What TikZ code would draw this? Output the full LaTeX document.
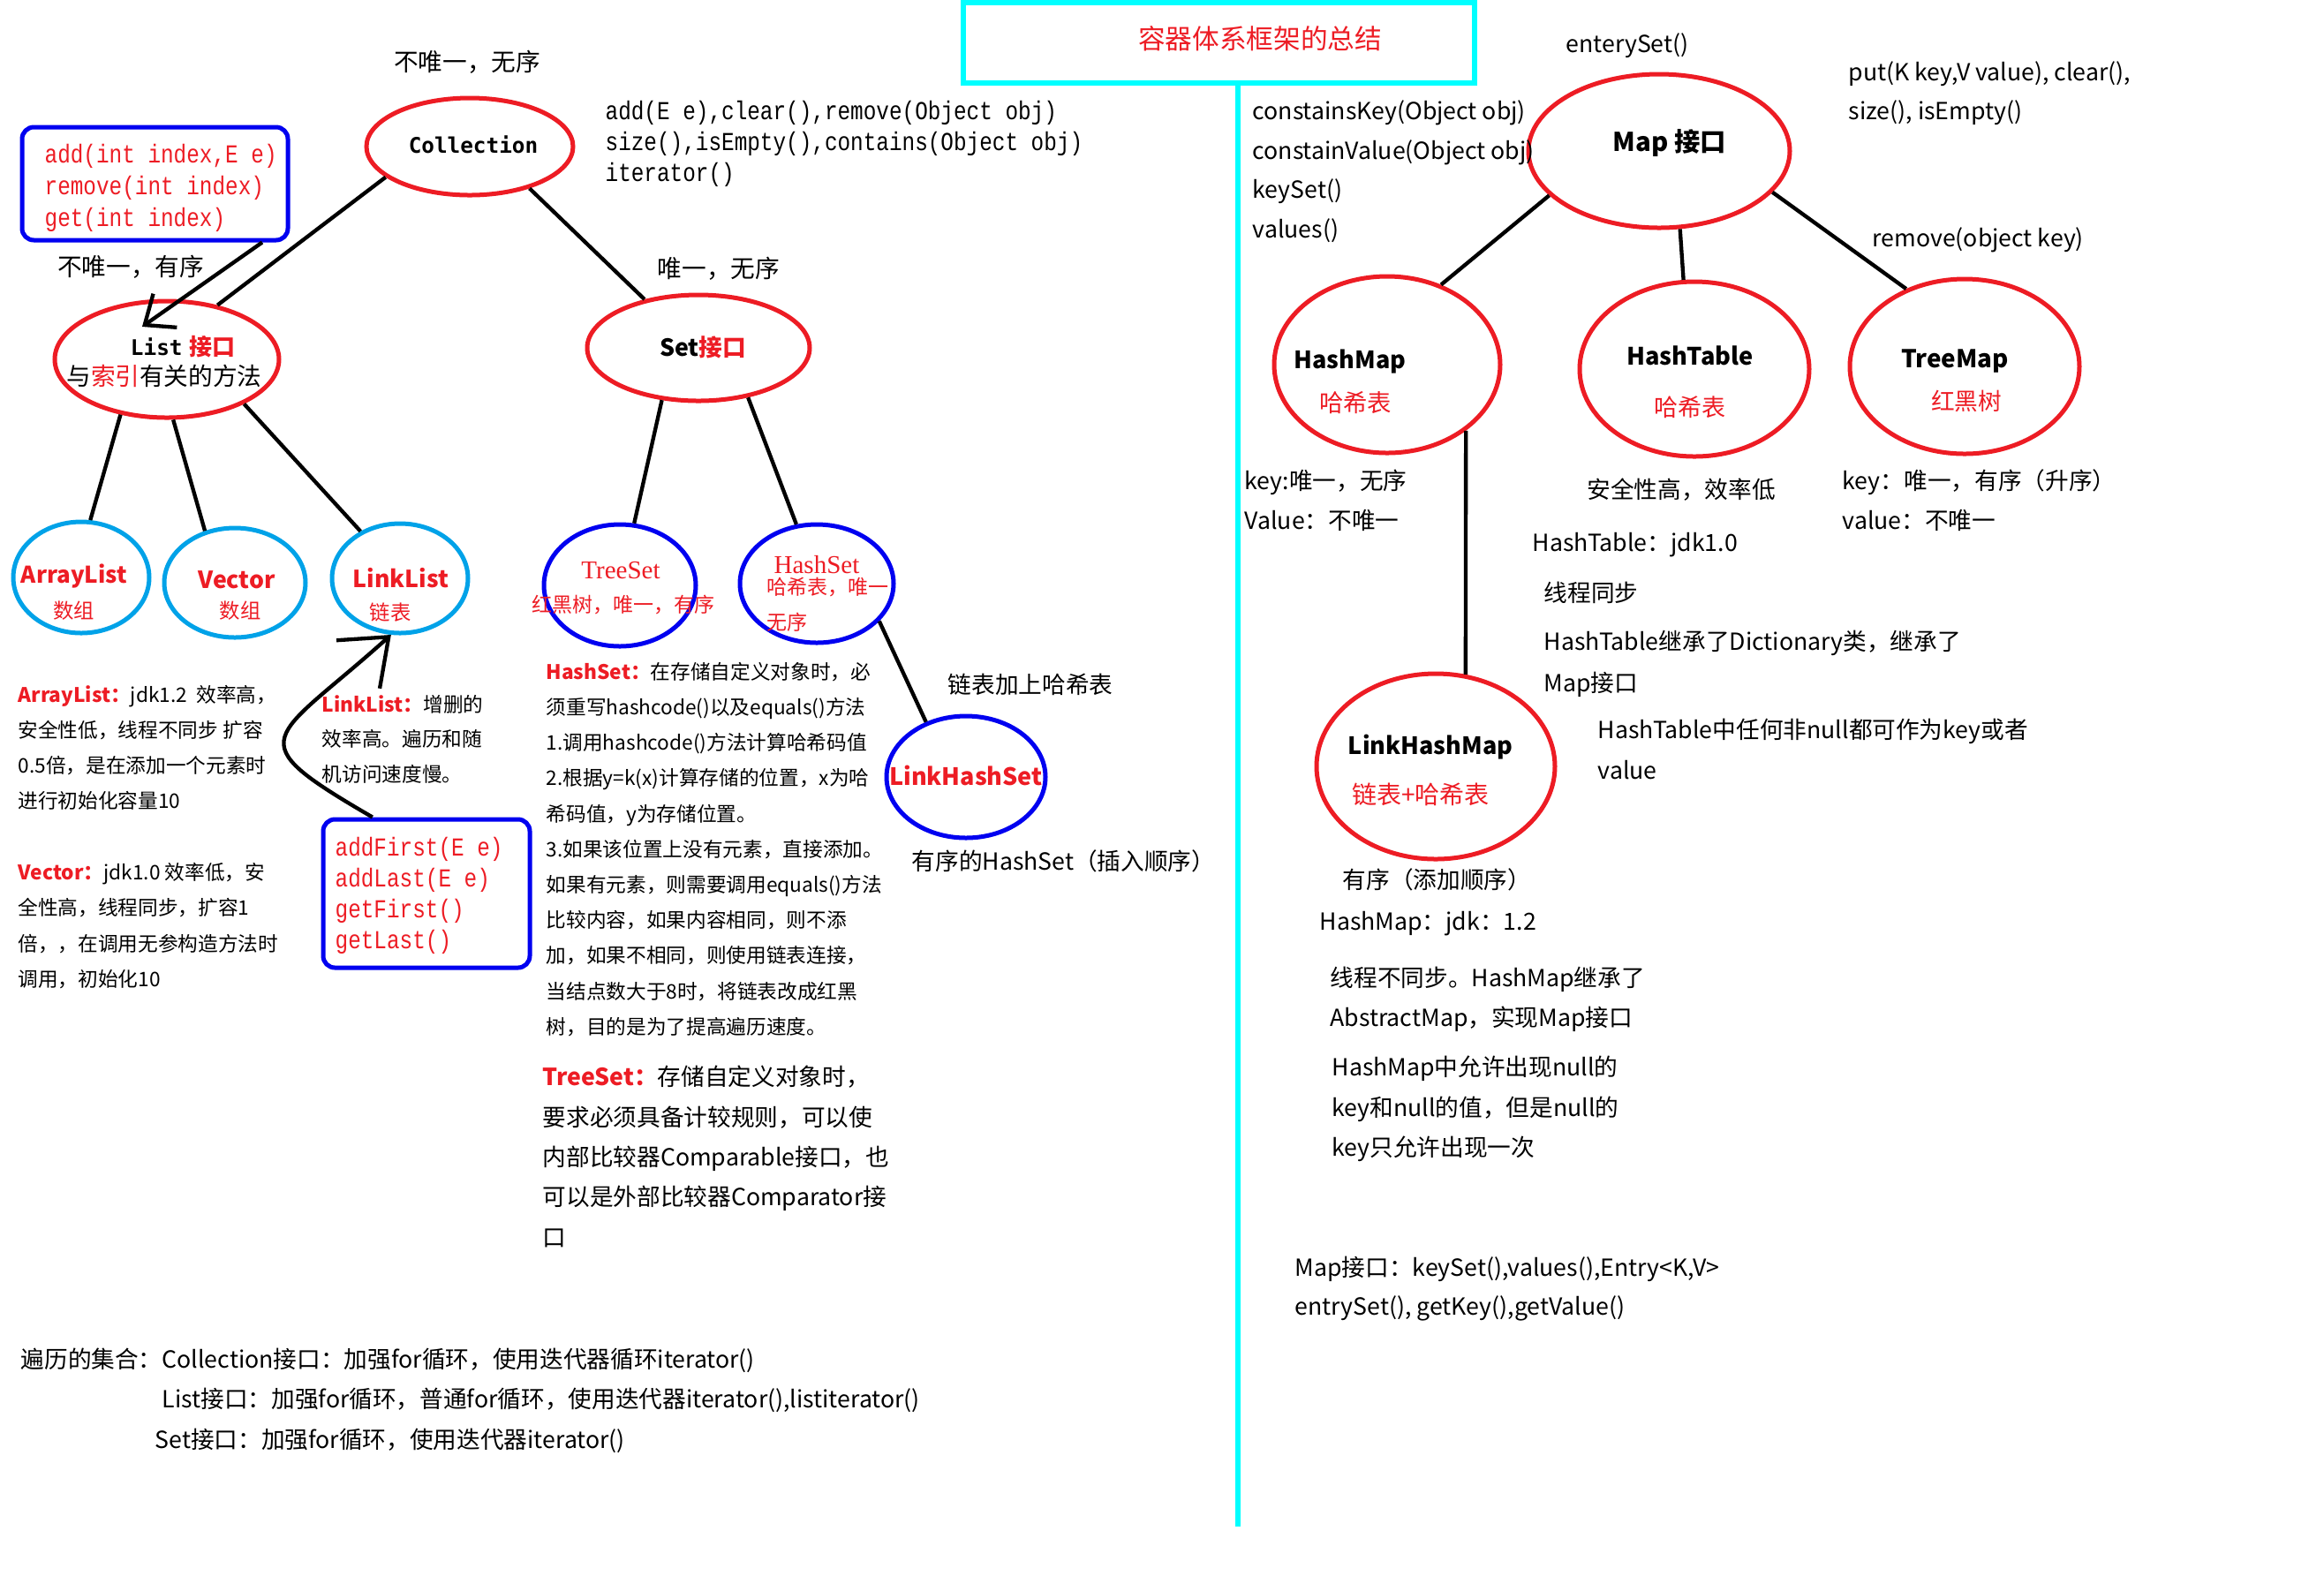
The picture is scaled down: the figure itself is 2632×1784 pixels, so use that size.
\documentclass[tikz,border=0pt]{standalone}
\usepackage{fontspec}
\setmainfont{Noto Sans CJK SC}
\newfontfamily\monoS[FakeStretch=0.83]{Liberation Mono}
\newfontfamily\serifT{Liberation Serif}
\newfontfamily\monoB{DejaVu Sans Mono}
\usetikzlibrary{shapes.geometric,arrows.meta,calc}
\definecolor{pred}{HTML}{ED1C24}
\definecolor{pblue}{HTML}{0000F0}
\definecolor{pcyan}{HTML}{00A2E8}
\definecolor{tcyan}{HTML}{00FFFF}
\newcommand{\fs}[2]{\fontsize{#1pt}{#2pt}\selectfont}
\newcommand{\topr}[1]{\rule{0pt}{#1pt}}
\begin{document}
\begin{tikzpicture}[x=0.3pt,y=-0.3pt,
  ell/.style={ellipse,draw,line width=1.5pt,inner sep=0pt},
  redell/.style={ell,draw=pred},
  cyanell/.style={ell,draw=pcyan},
  blueell/.style={ell,draw=pblue},
  conn/.style={draw=black,line width=1.3pt},
  lbl/.style={inner sep=0pt},
  wl/.style={inner sep=0pt,anchor=west},
  blk/.style={inner sep=0pt,anchor=north west,align=left},
  mbox/.style={draw=pblue,line width=1.5pt,rounded corners=4pt,inner sep=0pt},
]
\fill[white] (0,0) rectangle (2632,1784);
\useasboundingbox (0,0) rectangle (2632,1784);

% ---------- title ----------
\node[draw=tcyan,line width=2pt,minimum width=173.7pt,minimum height=27.3pt,inner sep=0pt] (titlebox) at (1380.5,48.5) {};
\node[lbl,text=pred,font=\fs{9.2}{11}] (titletext) at (1427,44) {容器体系框架的总结};
\coordinate (divTop) at (1402,94);
\coordinate (divBot) at (1402,1729);
\draw[tcyan,line width=2pt] (divTop) -- (divBot);

% ---------- Collection side ----------
\node[redell,minimum width=70.2pt,minimum height=33pt] (coll) at (532,166) {};
\node[lbl,font=\monoB\bfseries\fs{7.3}{9}] (tcoll) at (536,164) {Collection};
\node[lbl,font=\fs{8.3}{10}] (lcoll) at (529,70) {不唯一，无序};
\node[blk,font=\monoS\fs{8.8}{10.5}] (collm) at (685,105.5) {\topr{8.8}add(E e),clear(),remove(Object obj)\\size(),isEmpty(),contains(Object obj)\\iterator()};

\node[redell,minimum width=76.2pt,minimum height=39.6pt] (list) at (189,407) {};
\node[lbl] (tlist1) at (207,393) {{\monoB\bfseries\fs{7.3}{9}List} {\color{pred}\bfseries\fs{7.8}{9}接口}};
\node[lbl,font=\fs{8.3}{10}] (tlist2) at (186,426) {与{\color{pred}索引}有关的方法};
\node[lbl,font=\fs{8.3}{10}] (llist) at (148,302) {不唯一，有序};

\node[mbox,minimum width=90.3pt,minimum height=38.4pt] (boxL) at (175.5,208) {};
\node[blk,text=pred,font=\monoS\fs{8.8}{10.8}] (boxLt) at (50,154.5) {\topr{8.8}add(int index,E e)\\remove(int index)\\get(int index)};

\node[redell,minimum width=75.6pt,minimum height=36pt] (set) at (791,394) {};
\node[lbl,font=\bfseries\fs{8}{10}] (tset0) at (796,393) {Set{\color{pred}接口}};
\node[lbl,font=\fs{8.3}{10}] (lset) at (814,304) {唯一，无序};

% list children
\node[cyanell,minimum width=46.2pt,minimum height=37.8pt] (arr) at (92,654) {};
\node[lbl,text=pred,font=\bfseries\fs{7.8}{10}] (tarr1) at (84,653) {ArrayList};
\node[lbl,text=pred,font=\fs{7}{9}] (tarr2) at (84,692) {数组};
\node[cyanell,minimum width=48pt,minimum height=37.2pt] (vec) at (266,660) {};
\node[lbl,text=pred,font=\bfseries\fs{8}{10}] (tvec1) at (268,657) {Vector};
\node[lbl,text=pred,font=\fs{7}{9}] (tvec2) at (272,692) {数组};
\node[cyanell,minimum width=46.2pt,minimum height=37.2pt] (lnk) at (453,655) {};
\node[lbl,text=pred,font=\bfseries\fs{8}{10}] (tlnk1) at (454,655) {LinkList};
\node[lbl,text=pred,font=\fs{7}{9}] (tlnk2) at (442,694) {链表};

% set children
\node[blueell,minimum width=51.6pt,minimum height=41.4pt] (tset) at (702,663) {};
\node[lbl,text=pred,font=\serifT\fs{8.7}{10}] (ttset1) at (703,646) {TreeSet};
\node[lbl,text=pred,font=\fs{6.9}{8}] (ttset2) at (706,685) {红黑树，唯一，有序};
\node[blueell,minimum width=52.2pt,minimum height=40.2pt] (hset) at (925,661) {};
\node[lbl,text=pred,font=\serifT\fs{8.7}{10}] (thset1) at (925,640) {HashSet};
\node[lbl,text=pred,font=\fs{6.9}{8}] (thset2) at (937,665) {哈希表，唯一};
\node[lbl,text=pred,font=\fs{6.9}{8}] (thset3) at (891,705) {无序};
\node[blueell,minimum width=54pt,minimum height=41.4pt] (lhset) at (1094,880) {};
\node[lbl,text=pred,font=\bfseries\fs{8.1}{10}] (tlhset) at (1094,878) {LinkHashSet};
\node[lbl,font=\fs{8}{10}] (llhset) at (1167,775) {链表加上哈希表};
\node[wl,font=\fs{8}{10}] (llhset2) at (1032,975) {有序的HashSet（插入顺序）};

\node[mbox,minimum width=70.2pt,minimum height=50.4pt] (boxF) at (483,1012) {};
\node[blk,text=pred,font=\monoS\fs{8.8}{10.5}] (boxFt) at (379,939.5) {\topr{8.8}addFirst(E e)\\addLast(E e)\\getFirst()\\getLast()};

% text blocks left
\node[blk,font=\fs{6.8}{12}] (arrtxt) at (20,772) {\topr{6.8}{\color{pred}\bfseries ArrayList：}jdk1.2\ \ 效率高，\\安全性低，线程不同步 扩容\\0.5倍，是在添加一个元素时\\进行初始化容量10};
\node[blk,font=\fs{6.8}{12.1}] (vectxt) at (20,973) {\topr{6.8}{\color{pred}\bfseries Vector：}jdk1.0 效率低，安\\全性高，线程同步，扩容1\\倍，，在调用无参构造方法时\\调用，初始化10};
\node[blk,font=\fs{6.8}{11.85}] (lnktxt) at (364,783) {\topr{6.8}{\color{pred}\bfseries LinkList：}增删的\\效率高。遍历和随\\机访问速度慢。};
\node[blk,font=\fs{6.8}{12.06}] (hsettxt) at (618,746) {\topr{6.8}{\color{pred}\bfseries HashSet：}在存储自定义对象时，必\\须重写hashcode()以及equals()方法\\1.调用hashcode()方法计算哈希码值\\2.根据y=k(x)计算存储的位置，x为哈\\希码值，y为存储位置。\\3.如果该位置上没有元素，直接添加。\\如果有元素，则需要调用equals()方法\\比较内容，如果内容相同，则不添\\加，如果不相同，则使用链表连接，\\当结点数大于8时，将链表改成红黑\\树，目的是为了提高遍历速度。};
\node[blk,font=\fs{8}{13.6}] (tsettxt) at (614,1202.5) {\topr{8}{\color{pred}\bfseries TreeSet：}存储自定义对象时，\\要求必须具备计较规则，可以使\\内部比较器Comparable接口，也\\可以是外部比较器Comparator接\\口};

\node[wl,font=\fs{8}{10}] (iter1) at (23,1541) {遍历的集合：Collection接口：加强for循环，使用迭代器循环iterator()};
\node[wl,font=\fs{8}{10}] (iter2) at (183,1586) {List接口：加强for循环，普通for循环，使用迭代器iterator(),listiterator()};
\node[wl,font=\fs{8}{10}] (iter3) at (175,1632) {Set接口：加强for循环，使用迭代器iterator()};

% ---------- Map side ----------
\node[redell,minimum width=88.8pt,minimum height=52.2pt] (map) at (1879,171) {};
\node[lbl,font=\bfseries\fs{8.8}{10}] (tmap0) at (1891,162) {Map 接口};
\node[lbl,font=\fs{8}{10}] (lmap1) at (1843,52) {enterySet()};
\node[blk,font=\fs{8}{13.2}] (lmap2) at (2093,64) {\topr{8}put(K key,V value), clear(),\\size(), isEmpty()};
\node[blk,font=\fs{8}{13.4}] (lmap3) at (1418,108) {\topr{8}constainsKey(Object obj)\\constainValue(Object obj)\\keySet()\\values()};
\node[wl,font=\fs{8}{10}] (lmap4) at (2120,272) {remove(object key)};

\node[redell,minimum width=76.8pt,minimum height=60pt] (hmap) at (1571,413) {};
\node[lbl,font=\bfseries\fs{8.1}{10}] (thmap1) at (1529,409) {HashMap};
\node[lbl,text=pred,font=\fs{8.2}{10}] (thmap2) at (1535,456) {哈希表};
\node[redell,minimum width=78pt,minimum height=59.4pt] (htab) at (1919,418) {};
\node[lbl,font=\bfseries\fs{8.15}{10}] (thtab1) at (1914,403) {HashTable};
\node[lbl,text=pred,font=\fs{8.1}{10}] (thtab2) at (1914,461) {哈希表};
\node[redell,minimum width=78pt,minimum height=59.4pt] (tmap) at (2225,415) {};
\node[lbl,font=\bfseries\fs{8.35}{10}] (ttmap1) at (2214,409) {TreeMap};
\node[lbl,text=pred,font=\fs{8}{10}] (ttmap2) at (2227,454) {红黑树};
\node[redell,minimum width=81pt,minimum height=63pt] (lhmap) at (1626,868) {};
\node[lbl,font=\bfseries\fs{8.1}{10}] (tlhmap1) at (1620,846) {LinkHashMap};
\node[lbl,text=pred,font=\fs{8.4}{10}] (tlhmap2) at (1609,900) {链表+哈希表};

\node[blk,font=\fs{8}{13.5}] (khm) at (1409,527.5) {\topr{8}key:唯一，无序\\Value：不唯一};
\node[lbl,font=\fs{8}{10}] (kht) at (1904,555) {安全性高，效率低};
\node[blk,font=\fs{8}{13.5}] (ktm) at (2086,527.5) {\topr{8}key：唯一，有序（升序）\\value：不唯一};
\node[wl,font=\fs{8}{10}] (ht1) at (1735,617) {HashTable：jdk1.0};
\node[wl,font=\fs{8}{10}] (ht2) at (1748,671) {线程同步};
\node[blk,font=\fs{8}{14.1}] (ht3) at (1748,709.5) {\topr{8}HashTable继承了Dictionary类，继承了\\Map接口};
\node[blk,font=\fs{8}{13.8}] (ht4) at (1809,809.5) {\topr{8}HashTable中任何非null都可作为key或者\\value};
\node[wl,font=\fs{8}{10}] (lhm1) at (1520,996) {有序（添加顺序）};
\node[wl,font=\fs{8}{10}] (hm1) at (1494,1046) {HashMap：jdk：1.2};
\node[blk,font=\fs{8}{13.5}] (hm2) at (1506,1090.5) {\topr{8}线程不同步。HashMap继承了\\AbstractMap，实现Map接口};
\node[blk,font=\fs{8}{13.65}] (hm3) at (1508,1191.5) {\topr{8}HashMap中允许出现null的\\key和null的值，但是null的\\key只允许出现一次};
\node[blk,font=\fs{8}{13.2}] (mapi) at (1466,1418.5) {\topr{8}Map接口：keySet(),values(),Entry<K,V>\\entrySet(), getKey(),getValue()};

% ---------- connectors ----------
\draw[conn] (coll.-160.8) -- (list.47.6);
\draw[conn] (coll.-35) -- (set.138);
\draw[conn] (list.-130.2) -- (arr.81);
\draw[conn] (list.-84) -- (vec.120);
\draw[conn] (list.-30.5) -- (lnk.130);
\draw[conn] (set.-125.4) -- (tset.77.7);
\draw[conn] (set.-45.5) -- (hset.109.7);
\draw[conn] (hset.-31.4) -- (lhset.126.7);
\draw[conn] (map.-158.3) -- (hmap.56.3);
\draw[conn] (map.-75.2) -- (htab.97);
\draw[conn] (map.-20.4) -- (tmap.127.6);
\draw[conn] (hmap.-40.4) -- (lhmap.72.6);

\coordinate (lArrS) at ($(boxL.south west)!0.897!(boxL.south east)$);
\coordinate (lArrE) at ($(list.center)+(-28,-37)$);
\draw[conn,-{Straight Barb[length=8.5pt,width=14pt]}] (lArrS) -- (lArrE);

\coordinate (fArrS) at ($(boxF.north west)!0.244!(boxF.north east)$);
\coordinate (fC1) at (266,835);
\coordinate (fC2) at (307,841);
\draw[conn,-{Straight Barb[length=14pt,width=22pt]}] (fArrS) .. controls (fC1) and (fC2) .. (lnk.-99);
\end{tikzpicture}
\end{document}
